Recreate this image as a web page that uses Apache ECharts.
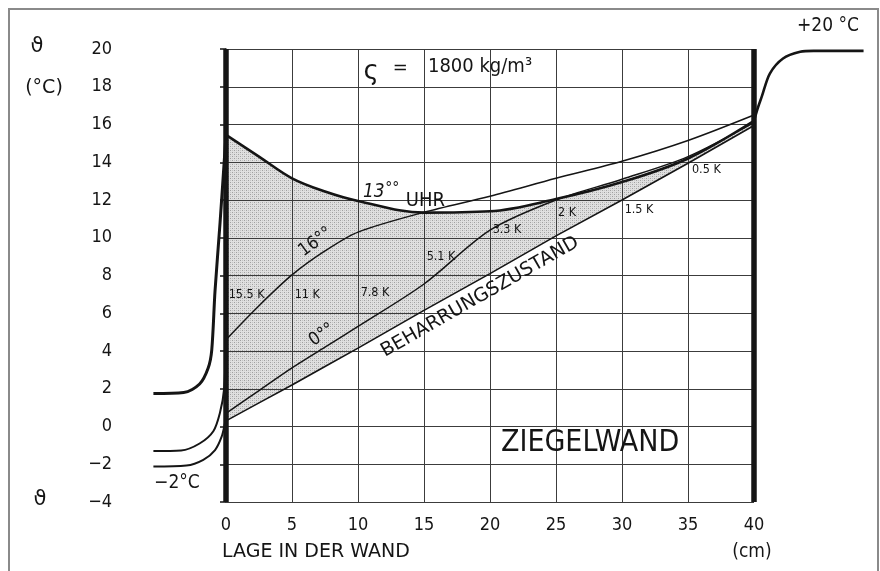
<!DOCTYPE html>
<html>
<head>
<meta charset="utf-8">
<script src="https://cdn.jsdelivr.net/npm/echarts@6/dist/echarts.min.js"></script>
<style>
  html, body { margin: 0; padding: 0; background: #fff; }
  #chart { width: 880px; height: 571px; }
</style>
</head>
<body>
<div id="chart"></div>
<script>
// Temperature profiles through a 40 cm brick wall (density 1800 kg/m3)
// over one day, with the outdoor and indoor boundary layers on either side.

// Axis ticks
const xTicks = [0, 5, 10, 15, 20, 25, 30, 35, 40];
const yTicks = [-4, -2, 0, 2, 4, 6, 8, 10, 12, 14, 16, 18, 20];

// Position in the wall (cm) used by the profiles below
const wallX = [0, 2.5, 5, 7.5, 10, 15, 20, 25, 30, 35, 40];

// Temperatures inside the wall (deg C)
const steadyState = [0.3, 1.25, 2.2, 3.18, 4.15, 6.15, 8.1, 10.1, 12.0, 13.95, 15.95];
const hour13 = [15.45, 14.3, 13.15, 12.45, 11.95, 11.33, 11.4, 12.05, 12.95, 14.2, 16.2];
const hour16 = [4.6, 6.4, 8.03, 9.3, 10.3, 11.35, 12.2, 13.15, 14.05, 15.15, 16.5];
const hour0 = [0.7, 1.9, 3.1, 4.2, 5.3, 7.55, 10.4, 12.0, 13.1, 14.3, 16.1];

// Outdoor boundary layer (x < 0) and indoor boundary layer (x > 40)
const outside13 = [[-5.5, 1.75], [-3.2, 1.8], [-2.0, 2.25], [-1.35, 3.1], [-1.08, 4.05], [-0.83, 7.2], [-0.45, 10.8], [0, 15.45]];
const outside16 = [[-5.5, -1.3], [-3.4, -1.27], [-2.0, -0.9], [-0.96, -0.25], [-0.45, 0.75], [-0.15, 1.95], [0, 4.6]];
const outside0 = [[-5.5, -2.12], [-3.0, -2.07], [-1.72, -1.77], [-0.83, -1.25], [-0.33, -0.54], [-0.08, 0.17], [0, 0.5]];
const inside = [[40, 16.2], [40.3, 16.9], [40.6, 17.5], [41.2, 18.7], [42.2, 19.5], [43.5, 19.85], [44.5, 19.9], [48.3, 19.9]];

// Daily amplitude at each grid position
const amplitudes = [
  ['15.5 K', 0.2, 6.97], ['11 K', 5.2, 6.97], ['7.8 K', 10.2, 7.07], ['5.1 K', 15.2, 8.98],
  ['3.3 K', 20.2, 10.4], ['2 K', 25.15, 11.33], ['1.5 K', 30.2, 11.47], ['0.5 K', 35.3, 13.6]
];

const FONT_C = '"DejaVu Sans Condensed", "DejaVu Sans", sans-serif';
const FONT = '"DejaVu Sans", sans-serif';
const INK = '#151515';

// stipple used for the band between the 13 h profile and the steady state
const tile = document.createElement('canvas');
tile.width = 4; tile.height = 4;
const tg = tile.getContext('2d');
tg.fillStyle = '#e0e0e0'; tg.fillRect(0, 0, 4, 4);
tg.fillStyle = '#a0a0a0'; tg.fillRect(0, 0, 1, 1); tg.fillRect(2, 2, 1, 1);
tg.fillStyle = '#c4c4c4'; tg.fillRect(2, 0, 1, 1); tg.fillRect(0, 2, 1, 1);

const pairs = (xs, ys) => xs.map((x, i) => [x, ys[i]]);

const hLines = yTicks.map(v => [{ coord: [0, v] }, { coord: [40, v] }]);
const vLines = xTicks.filter(v => v > 0 && v < 40).map(v => [{ coord: [v, -4] }, { coord: [v, 20] }]);
const walls = [0, 40].map(v => [{ coord: [v, -4] }, { coord: [v, 20] }]);

const curve = (data, width, smooth, z) => ({
  type: 'line', data, smooth, symbol: 'none', silent: true, z,
  lineStyle: { color: INK, width }
});

const chart = echarts.init(document.getElementById('chart'));
chart.setOption({
  animation: false,
  backgroundColor: '#fff',
  grid: { left: 127, right: 13.8, top: 49, bottom: 69 },
  xAxis: {
    type: 'value', min: -7.5, max: 48.5,
    axisLine: { show: false }, axisTick: { show: false }, splitLine: { show: false },
    axisLabel: { customValues: xTicks, margin: 14, fontFamily: FONT_C, fontSize: 18, color: INK }
  },
  yAxis: {
    type: 'value', min: -4, max: 20, interval: 2,
    axisLine: { show: true, lineStyle: { color: INK, width: 1.5 } },
    axisTick: { show: true, length: 6, lineStyle: { color: INK, width: 1.5 } },
    splitLine: { show: false },
    axisLabel: {
      margin: 15, fontFamily: FONT_C, fontSize: 18, color: INK,
      formatter: v => (v < 0 ? '\u2212' + (-v) : String(v))
    }
  },
  series: [
    // stipple under the 13 h profile, then blanked out again below the steady state
    { type: 'line', data: pairs(wallX, hour13), smooth: 0.35, symbol: 'none', silent: true, z: 1,
      lineStyle: { opacity: 0 },
      areaStyle: { origin: 'start', color: { image: tile, repeat: 'repeat' }, opacity: 1 } },
    { type: 'line', data: pairs(wallX, steadyState), symbol: 'none', silent: true, z: 1,
      lineStyle: { opacity: 0 },
      areaStyle: { origin: 'start', color: '#ffffff', opacity: 1 } },
    { type: 'line', data: [], silent: true, z: 2,
      markLine: { silent: true, z: 2, symbol: ['none', 'none'], label: { show: false },
        lineStyle: { color: '#3c3c3c', width: 1, type: 'solid' }, data: hLines.concat(vLines) } },
    curve(pairs(wallX, steadyState), 1.6, false, 3),
    curve(pairs(wallX, hour0), 1.5, 0.3, 3),
    curve(pairs(wallX, hour16), 1.5, 0.3, 3),
    curve(pairs(wallX, hour13), 2.6, 0.35, 3),
    curve(outside13, 3, 0.3, 3),
    curve(outside16, 2, 0.3, 3),
    curve(outside0, 2, 0.3, 3),
    curve(inside, 2.6, 0.3, 3),
    { type: 'line', data: [], silent: true, z: 10,
      markLine: { silent: true, z: 10, symbol: ['none', 'none'], label: { show: false },
        lineStyle: { color: INK, width: 5.5, type: 'solid' }, data: walls } }
  ]
});

const px = (x, y) => chart.convertToPixel({ xAxisIndex: 0, yAxisIndex: 0 }, [x, y]);
const deg = a => a * Math.PI / 180;

function text(str, x, y, opts) {
  return {
    type: 'text', x, y, z: 20, rotation: opts.rotation || 0, silent: true,
    style: Object.assign({ text: str, fill: INK, align: 'center', verticalAlign: 'middle',
      fontFamily: FONT, fontSize: 18 }, opts.style || {})
  };
}
function dataText(str, dx, dy, opts) {
  const p = px(dx, dy);
  return text(str, p[0], p[1], opts);
}

const graphics = [
  { type: 'rect', shape: { x: 9, y: 9, width: 869, height: 600 }, silent: true, z: 0,
    style: { fill: 'none', stroke: '#8a8a8a', lineWidth: 2 } },
  // axis titles
  text('\u03D1', 37, 47, { style: { fontSize: 21 } }),
  text('(\u00B0C)', 44, 88, { style: { fontSize: 19 } }),
  text('\u03D1', 40, 500, { style: { fontSize: 21 } }),
  text('LAGE IN DER WAND', 222, 552, { style: { align: 'left', fontSize: 19 } }),
  text('(cm)', 752, 552, { style: { fontFamily: FONT_C, fontSize: 19 } }),
  // boundary temperatures
  dataText('+20 \u00B0C', 45.6, 21.2, { style: { fontFamily: FONT_C, fontSize: 19 } }),
  dataText('\u22122\u00B0C', -5.45, -3.0, { style: { align: 'left', fontFamily: FONT_C, fontSize: 19 } }),
  // density
  dataText('\u03C2', 11.0, 18.75, { style: { fontSize: 26 } }),
  dataText('=', 13.2, 18.95, { style: { fontSize: 18 } }),
  dataText('1800 kg/m\u00B3', 15.3, 19.05, { style: { align: 'left', fontFamily: FONT_C, fontSize: 20 } }),
  // profile labels
  dataText('13', 11.2, 12.42, { style: { fontFamily: FONT_C, fontSize: 19, fontStyle: 'italic' } }),
  dataText('\u00B0\u00B0', 12.6, 12.6, { style: { fontSize: 14 } }),
  dataText('UHR', 15.1, 11.95, { style: { fontFamily: FONT_C, fontSize: 20 } }),
  dataText('16\u00B0\u00B0', 6.8, 9.77, { rotation: deg(36), style: { fontFamily: FONT_C, fontSize: 18 } }),
  dataText('0\u00B0\u00B0', 7.27, 4.85, { rotation: deg(34), style: { fontFamily: FONT_C, fontSize: 18 } }),
  dataText('BEHARRUNGSZUSTAND', 19.24, 6.86, { rotation: deg(29.8), style: { fontSize: 19 } }),
  dataText('ZIEGELWAND', 27.58, -0.87, { style: { fontFamily: FONT_C, fontSize: 30 } })
];
amplitudes.forEach(a => {
  graphics.push(dataText(a[0], a[1], a[2], { style: { align: 'left', fontFamily: FONT_C, fontSize: 12.5 } }));
});
chart.setOption({ graphic: graphics });
</script>
</body>
</html>
